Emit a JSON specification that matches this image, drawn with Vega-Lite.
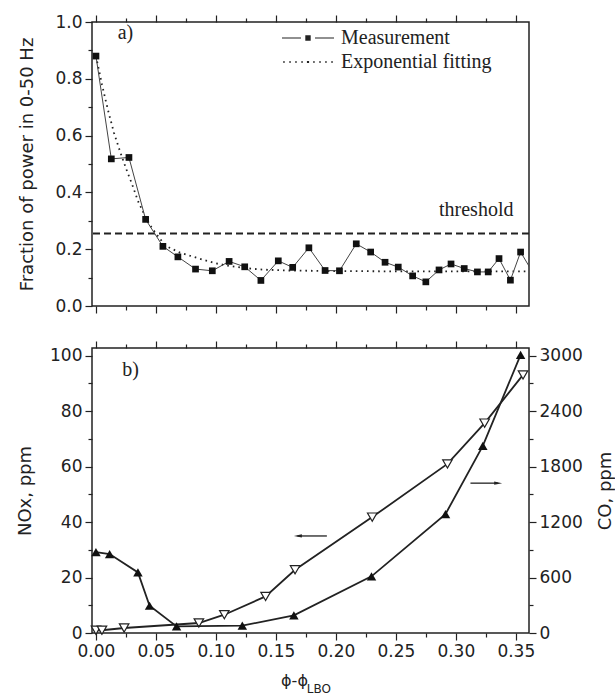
{
  "$schema": "https://vega.github.io/schema/vega-lite/v6.json",
  "background": "white",
  "padding": {"left": 15, "top": 12, "right": 0, "bottom": 0},
  "datasets": {
    "power": [
      {"series": "Measurement", "phi": 0.0, "frac": 0.88},
      {"series": "Measurement", "phi": 0.0128, "frac": 0.518},
      {"series": "Measurement", "phi": 0.0275, "frac": 0.523},
      {"series": "Measurement", "phi": 0.0414, "frac": 0.305},
      {"series": "Measurement", "phi": 0.0558, "frac": 0.21},
      {"series": "Measurement", "phi": 0.0683, "frac": 0.173},
      {"series": "Measurement", "phi": 0.083, "frac": 0.13},
      {"series": "Measurement", "phi": 0.097, "frac": 0.124},
      {"series": "Measurement", "phi": 0.111, "frac": 0.157},
      {"series": "Measurement", "phi": 0.124, "frac": 0.138},
      {"series": "Measurement", "phi": 0.1375, "frac": 0.09},
      {"series": "Measurement", "phi": 0.152, "frac": 0.159},
      {"series": "Measurement", "phi": 0.164, "frac": 0.136},
      {"series": "Measurement", "phi": 0.1775, "frac": 0.205},
      {"series": "Measurement", "phi": 0.191, "frac": 0.125},
      {"series": "Measurement", "phi": 0.203, "frac": 0.124},
      {"series": "Measurement", "phi": 0.217, "frac": 0.219},
      {"series": "Measurement", "phi": 0.229, "frac": 0.19},
      {"series": "Measurement", "phi": 0.241, "frac": 0.154},
      {"series": "Measurement", "phi": 0.252, "frac": 0.137},
      {"series": "Measurement", "phi": 0.264, "frac": 0.106},
      {"series": "Measurement", "phi": 0.275, "frac": 0.085},
      {"series": "Measurement", "phi": 0.286, "frac": 0.127},
      {"series": "Measurement", "phi": 0.296, "frac": 0.148},
      {"series": "Measurement", "phi": 0.307, "frac": 0.132},
      {"series": "Measurement", "phi": 0.318, "frac": 0.12},
      {"series": "Measurement", "phi": 0.327, "frac": 0.12},
      {"series": "Measurement", "phi": 0.336, "frac": 0.167},
      {"series": "Measurement", "phi": 0.3455, "frac": 0.091},
      {"series": "Measurement", "phi": 0.354, "frac": 0.19},
      {"series": "Measurement", "phi": 0.366, "frac": 0.105},
      {"series": "Exponential fitting", "phi": 0.0, "frac": 0.88},
      {"series": "Exponential fitting", "phi": 0.005, "frac": 0.78},
      {"series": "Exponential fitting", "phi": 0.01, "frac": 0.69},
      {"series": "Exponential fitting", "phi": 0.015, "frac": 0.61},
      {"series": "Exponential fitting", "phi": 0.02, "frac": 0.545},
      {"series": "Exponential fitting", "phi": 0.025, "frac": 0.485},
      {"series": "Exponential fitting", "phi": 0.03, "frac": 0.43},
      {"series": "Exponential fitting", "phi": 0.035, "frac": 0.37},
      {"series": "Exponential fitting", "phi": 0.04, "frac": 0.325},
      {"series": "Exponential fitting", "phi": 0.045, "frac": 0.285},
      {"series": "Exponential fitting", "phi": 0.05, "frac": 0.255},
      {"series": "Exponential fitting", "phi": 0.055, "frac": 0.228},
      {"series": "Exponential fitting", "phi": 0.06, "frac": 0.208},
      {"series": "Exponential fitting", "phi": 0.07, "frac": 0.188},
      {"series": "Exponential fitting", "phi": 0.08, "frac": 0.175},
      {"series": "Exponential fitting", "phi": 0.09, "frac": 0.162},
      {"series": "Exponential fitting", "phi": 0.1, "frac": 0.15},
      {"series": "Exponential fitting", "phi": 0.11, "frac": 0.142},
      {"series": "Exponential fitting", "phi": 0.12, "frac": 0.136},
      {"series": "Exponential fitting", "phi": 0.13, "frac": 0.131},
      {"series": "Exponential fitting", "phi": 0.14, "frac": 0.128},
      {"series": "Exponential fitting", "phi": 0.16, "frac": 0.125},
      {"series": "Exponential fitting", "phi": 0.2, "frac": 0.123},
      {"series": "Exponential fitting", "phi": 0.25, "frac": 0.122},
      {"series": "Exponential fitting", "phi": 0.3, "frac": 0.122},
      {"series": "Exponential fitting", "phi": 0.361, "frac": 0.122}
    ],
    "nox": [
      {"phi": 0.0, "nox": 1.0},
      {"phi": 0.005, "nox": 1.0},
      {"phi": 0.0235, "nox": 1.8},
      {"phi": 0.0858, "nox": 3.6},
      {"phi": 0.107, "nox": 6.6},
      {"phi": 0.1414, "nox": 13.2},
      {"phi": 0.166, "nox": 22.8},
      {"phi": 0.2303, "nox": 41.8},
      {"phi": 0.293, "nox": 61.0},
      {"phi": 0.324, "nox": 75.7},
      {"phi": 0.356, "nox": 93.1}
    ],
    "co": [
      {"phi": 0.0, "co": 875},
      {"phi": 0.0114, "co": 854},
      {"phi": 0.035, "co": 656},
      {"phi": 0.0447, "co": 295},
      {"phi": 0.0672, "co": 72},
      {"phi": 0.122, "co": 79},
      {"phi": 0.165, "co": 191},
      {"phi": 0.2297, "co": 613},
      {"phi": 0.2914, "co": 1287},
      {"phi": 0.3225, "co": 2025},
      {"phi": 0.354, "co": 3009}
    ]
  },
  "spacing": 24,
  "vconcat": [
    {
      "width": 437,
      "height": 284,
      "resolve": {"axis": {"x": "independent", "y": "independent"}},
      "layer": [
        {
          "data": {"values": [{}]},
          "mark": {"type": "rule", "strokeDash": [7, 4], "strokeWidth": 2, "color": "#222"},
          "encoding": {"y": {"datum": 0.255, "type": "quantitative", "axis": null}}
        },
        {
          "data": {"name": "power"},
          "transform": [{"filter": "datum.series == 'Exponential fitting'"}],
          "mark": {"type": "line", "strokeDash": [1.6, 4], "strokeWidth": 1.8, "color": "#222", "clip": true},
          "encoding": {
            "x": {
              "field": "phi", "type": "quantitative",
              "scale": {"domain": [-0.0033, 0.361], "nice": false, "zero": false},
              "axis": {
                "orient": "top", "title": null, "labels": false,
                "values": [0, 0.025, 0.05, 0.075, 0.1, 0.125, 0.15, 0.175, 0.2, 0.225, 0.25, 0.275, 0.3, 0.325, 0.35],
                "tickSize": {"condition": {"test": "abs(datum.value*20 - round(datum.value*20)) < 0.01", "value": 7}, "value": 4}
              }
            },
            "y": {
              "field": "frac", "type": "quantitative",
              "scale": {"domain": [0, 1], "nice": false},
              "axis": {
                "orient": "left", "title": "Fraction of power in 0-50 Hz", "titlePadding": 18,
                "values": [0, 0.2, 0.4, 0.6, 0.8, 1.0], "format": ".1f",
                "ticks": false, "labelPadding": 10
              }
            }
          }
        },
        {
          "data": {"name": "power"},
          "transform": [{"filter": "datum.series == 'Measurement'"}],
          "mark": {"type": "line", "strokeWidth": 1, "color": "#444", "clip": true},
          "encoding": {
            "x": {
              "field": "phi", "type": "quantitative",
              "axis": {
                "orient": "bottom", "title": null, "labels": false,
                "values": [0, 0.025, 0.05, 0.075, 0.1, 0.125, 0.15, 0.175, 0.2, 0.225, 0.25, 0.275, 0.3, 0.325, 0.35],
                "tickSize": {"condition": {"test": "abs(datum.value*20 - round(datum.value*20)) < 0.01", "value": 7}, "value": 4}
              }
            },
            "y": {
              "field": "frac", "type": "quantitative",
              "axis": {
                "orient": "left", "title": null, "labels": false,
                "values": [0, 0.1, 0.2, 0.3, 0.4, 0.5, 0.6, 0.7, 0.8, 0.9, 1.0],
                "tickSize": {"condition": {"test": "abs(datum.value*5 - round(datum.value*5)) < 0.01", "value": 7}, "value": 4}
              }
            }
          }
        },
        {
          "data": {"name": "power"},
          "transform": [{"filter": "datum.series == 'Measurement'"}],
          "mark": {"type": "point", "shape": "square", "filled": true, "size": 45, "color": "#111", "opacity": 1, "clip": true},
          "encoding": {
            "x": {"field": "phi", "type": "quantitative", "axis": null},
            "y": {"field": "frac", "type": "quantitative", "axis": null}
          }
        },
        {
          "data": {"name": "power"},
          "mark": {"type": "point", "filled": true, "color": "#222", "opacity": 0},
          "encoding": {
            "shape": {
              "field": "series", "type": "nominal",
              "scale": {
                "domain": ["Measurement", "Exponential fitting"],
                "range": [
                  "M-1.93,-0.045H-0.52V0.045H-1.93ZM0.52,-0.045H1.93V0.045H0.52ZM-0.2,-0.2H0.2V0.2H-0.2Z",
                  "M-1.84,-0.06h0.12v0.12h-0.12ZM-1.39,-0.06h0.12v0.12h-0.12ZM-0.95,-0.06h0.12v0.12h-0.12ZM-0.5,-0.06h0.12v0.12h-0.12ZM-0.08,-0.08h0.16v0.16h-0.16ZM0.38,-0.06h0.12v0.12h-0.12ZM0.83,-0.06h0.12v0.12h-0.12ZM1.27,-0.06h0.12v0.12h-0.12ZM1.72,-0.06h0.12v0.12h-0.12Z"
                ]
              },
              "legend": {
                "title": null, "orient": "none", "legendX": 202.5, "legendY": 2.5,
                "symbolOpacity": 1, "symbolFillColor": "#222", "symbolStrokeWidth": 0,
                "symbolSize": 729, "labelFont": "Liberation Serif", "labelFontSize": 20, "labelColor": "#222",
                "labelOffset": 19.5, "rowPadding": 0, "padding": 0, "offset": 0
              }
            }
          }
        },
        {
          "data": {"values": [{}]},
          "mark": {"type": "text", "align": "center", "baseline": "middle", "text": "a)"},
          "encoding": {
            "x": {"datum": 0.0246, "type": "quantitative", "axis": null},
            "y": {"datum": 0.963, "type": "quantitative", "axis": null}
          }
        },
        {
          "data": {"values": [{}]},
          "mark": {"type": "text", "align": "center", "baseline": "alphabetic", "text": "threshold"},
          "encoding": {
            "x": {"datum": 0.317, "type": "quantitative", "axis": null},
            "y": {"datum": 0.316, "type": "quantitative", "axis": null}
          }
        }
      ]
    },
    {
      "width": 437,
      "height": 285,
      "resolve": {"scale": {"y": "independent"}, "axis": {"x": "independent", "y": "independent"}},
      "layer": [
        {
          "resolve": {"axis": {"x": "independent", "y": "independent"}},
          "layer": [
            {
              "data": {"name": "nox"},
              "mark": {"type": "line", "strokeWidth": 1.8, "color": "#222"},
              "encoding": {
                "x": {
                  "field": "phi", "type": "quantitative",
                  "scale": {"domain": [-0.0033, 0.361], "nice": false, "zero": false},
                  "axis": {
                    "orient": "bottom", "title": "ϕ-ϕ", "titleX": 202, "titleY": 52, "titleBaseline": "alphabetic", "titleFontSize": 16,
                    "values": [0, 0.05, 0.1, 0.15, 0.2, 0.25, 0.3, 0.35], "format": ".2f",
                    "ticks": false, "labelPadding": 10
                  }
                },
                "y": {
                  "field": "nox", "type": "quantitative",
                  "scale": {"domain": [0, 102.8], "nice": false},
                  "axis": {
                    "orient": "left", "title": "NOx, ppm", "titlePadding": 15,
                    "values": [0, 20, 40, 60, 80, 100],
                    "ticks": false, "labelPadding": 10
                  }
                }
              }
            },
            {
              "data": {"name": "nox"},
              "mark": {"type": "point", "shape": "triangle-down", "filled": true, "fill": "white", "stroke": "#222", "strokeWidth": 1.2, "size": 90, "opacity": 1},
              "encoding": {
                "x": {
                  "field": "phi", "type": "quantitative",
                  "axis": {
                    "orient": "bottom", "title": null, "labels": false,
                    "values": [0, 0.025, 0.05, 0.075, 0.1, 0.125, 0.15, 0.175, 0.2, 0.225, 0.25, 0.275, 0.3, 0.325, 0.35],
                    "tickSize": {"condition": {"test": "abs(datum.value*20 - round(datum.value*20)) < 0.01", "value": 7}, "value": 4}
                  }
                },
                "y": {
                  "field": "nox", "type": "quantitative",
                  "axis": {
                    "orient": "left", "title": null, "labels": false,
                    "values": [0, 10, 20, 30, 40, 50, 60, 70, 80, 90, 100],
                    "tickSize": {"condition": {"test": "datum.value % 20 == 0", "value": 7}, "value": 4}
                  }
                }
              }
            },
            {
              "data": {"values": [{}]},
              "mark": {"type": "text", "align": "center", "baseline": "middle", "text": "b)"},
              "encoding": {
                "x": {"datum": 0.0288, "type": "quantitative", "axis": null},
                "y": {"datum": 94.8, "type": "quantitative", "axis": null}
              }
            },
            {
              "data": {"values": [{}]},
              "mark": {"type": "text", "align": "left", "baseline": "alphabetic", "text": "LBO", "font": "DejaVu Sans", "fontSize": 12},
              "encoding": {
                "x": {"datum": 0.1758, "type": "quantitative", "axis": null},
                "y": {"datum": -21.5, "type": "quantitative", "axis": null}
              }
            },
            {
              "data": {"values": [{}]},
              "mark": {"type": "rule", "strokeWidth": 1.3, "color": "#222"},
              "encoding": {
                "x": {"datum": 0.168, "type": "quantitative", "axis": null},
                "x2": {"datum": 0.1925},
                "y": {"datum": 35, "type": "quantitative", "axis": null}
              }
            },
            {
              "data": {"values": [{}]},
              "mark": {"type": "point", "shape": "M-1,0L1,-0.4L1,0.4Z", "filled": true, "color": "#222", "size": 64, "opacity": 1},
              "encoding": {
                "x": {"datum": 0.1683, "type": "quantitative", "axis": null},
                "y": {"datum": 35, "type": "quantitative", "axis": null}
              }
            },
            {
              "data": {"values": [{}]},
              "mark": {"type": "rule", "strokeWidth": 1.3, "color": "#222"},
              "encoding": {
                "x": {"datum": 0.3122, "type": "quantitative", "axis": null},
                "x2": {"datum": 0.335},
                "y": {"datum": 54.05, "type": "quantitative", "axis": null}
              }
            },
            {
              "data": {"values": [{}]},
              "mark": {"type": "point", "shape": "M1,0L-1,-0.4L-1,0.4Z", "filled": true, "color": "#222", "size": 64, "opacity": 1},
              "encoding": {
                "x": {"datum": 0.3353, "type": "quantitative", "axis": null},
                "y": {"datum": 54.05, "type": "quantitative", "axis": null}
              }
            }
          ]
        },
        {
          "data": {"name": "co"},
          "resolve": {"axis": {"x": "independent", "y": "independent"}},
          "layer": [
            {
              "mark": {"type": "line", "strokeWidth": 1.8, "color": "#222"},
              "encoding": {
                "x": {
                  "field": "phi", "type": "quantitative",
                  "axis": {
                    "orient": "top", "title": null, "labels": false,
                    "values": [0, 0.025, 0.05, 0.075, 0.1, 0.125, 0.15, 0.175, 0.2, 0.225, 0.25, 0.275, 0.3, 0.325, 0.35],
                    "tickSize": {"condition": {"test": "abs(datum.value*20 - round(datum.value*20)) < 0.01", "value": 7}, "value": 4}
                  }
                },
                "y": {
                  "field": "co", "type": "quantitative",
                  "scale": {"domain": [0, 3084], "nice": false},
                  "axis": {
                    "orient": "right", "title": "CO, ppm", "titlePadding": 14, "titleAngle": 270, "titleBaseline": "top",
                    "values": [0, 600, 1200, 1800, 2400, 3000], "format": "d",
                    "ticks": false, "labelPadding": 10
                  }
                }
              }
            },
            {
              "mark": {"type": "point", "shape": "triangle-up", "filled": true, "color": "#111", "size": 90, "opacity": 1},
              "encoding": {
                "x": {"field": "phi", "type": "quantitative", "axis": null},
                "y": {
                  "field": "co", "type": "quantitative",
                  "axis": {
                    "orient": "right", "title": null, "labels": false,
                    "values": [0, 300, 600, 900, 1200, 1500, 1800, 2100, 2400, 2700, 3000],
                    "tickSize": {"condition": {"test": "datum.value % 600 == 0", "value": 7}, "value": 4}
                  }
                }
              }
            }
          ]
        }
      ]
    }
  ],
  "config": {
    "view": {"stroke": "#222", "strokeWidth": 1.5},
    "axis": {
      "domain": false, "grid": false, "tickColor": "#222", "tickWidth": 1.2,
      "labelFont": "DejaVu Sans", "labelFontSize": 17, "labelColor": "#222", "labelPadding": 3,
      "labelOverlap": false, "labelFlush": false,
      "titleFont": "DejaVu Sans", "titleFontSize": 18, "titleFontWeight": "normal", "titleColor": "#222"
    },
    "text": {"font": "Liberation Serif", "fontSize": 20, "color": "#222"}
  }
}
